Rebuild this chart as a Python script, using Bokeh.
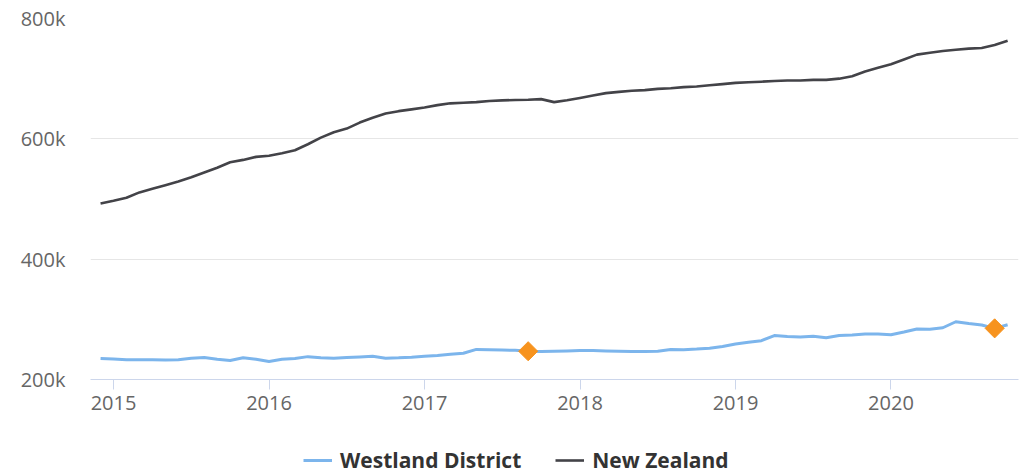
import numpy as np
from bokeh.plotting import figure
from bokeh.layouts import column
from bokeh.models import FixedTicker, Range1d, Legend, LegendItem
from bokeh.embed import file_html
from bokeh.resources import INLINE

# Monthly values, Dec 2014 .. Oct 2020 (thousands of NZD)
start_year = 2014
start_month = 12
westland = [235, 234, 233, 233, 233, 232.5, 233, 235.5, 236.5, 233.5, 231.5, 236,
            233.5, 230, 233.5, 235, 238, 236, 235.5, 236.5, 237.5, 238.5, 235.5, 236,
            237, 238.5, 240, 242, 243.7, 250, 249.5, 249, 248.5, 247, 246.5, 247,
            247.5, 248, 248, 247.5, 247, 246.5, 246.5, 247, 250, 249.5, 250.5, 252,
            255, 259, 262, 264.5, 273, 271.5, 270.5, 272, 269.5, 273, 274, 275.5,
            275.5, 274.5, 279, 284, 283.5, 286, 296, 293, 290.5, 285, 291]
new_zealand = [492.5, 497, 502, 511, 517, 523, 529, 536, 544, 552, 561, 565,
               570, 572, 576, 581, 591, 602, 611, 617, 627, 635, 642, 646,
               649, 652, 656, 659, 660, 661, 663, 664, 664.5, 665, 666, 661,
               664, 668, 672, 676, 678, 680, 681, 683, 684, 686, 687, 689,
               691, 693, 694, 695, 696, 697, 697, 698, 698, 700, 704, 712,
               718, 724, 732, 740, 743, 746, 748, 750, 751, 756, 763]
# highlighted points (month index from start)
highlight_idx = [33, 69]
series_names = ["Westland District", "New Zealand"]
series_colors = ["#7cb5ec", "#434348"]
year_ticks = [2015, 2016, 2017, 2018, 2019, 2020]
y_ticks = [200000, 400000, 600000, 800000]
y_labels = ["200k", "400k", "600k", "800k"]

n = len(westland)
x = [start_year + (start_month - 1) / 12 + i / 12 for i in range(n)]
w_vals = [v * 1000 for v in westland]
nz_vals = [v * 1000 for v in new_zealand]
hx = [x[i] for i in highlight_idx]
hy = [w_vals[i] for i in highlight_idx]

FONT = "Open Sans"

p = figure(width=1023, height=430, output_backend="svg", toolbar_location=None,
           x_range=Range1d(2014.852, 2020.82), y_range=Range1d(200000, 800000),
           min_border_left=90, min_border_right=5, min_border_top=18, min_border_bottom=51)
p.outline_line_color = None
p.background_fill_color = "white"
p.border_fill_color = "white"

p.line(x, w_vals, line_color=series_colors[0], line_width=3, line_join="round")
p.line(x, nz_vals, line_color=series_colors[1], line_width=2.6, line_join="round")
p.scatter(hx, hy, marker="square", angle=np.pi / 4, size=13.5,
          fill_color="#f7931e", line_color="#f7931e")

# axes
xa = p.xaxis[0]
xa.ticker = FixedTicker(ticks=year_ticks)
xa.axis_line_color = "#ccd6eb"
xa.major_tick_line_color = "#ccd6eb"
xa.major_tick_out = 10
xa.major_tick_in = 0
xa.minor_tick_line_color = None
xa.major_label_standoff = 6
xa.major_label_text_font = FONT
xa.major_label_text_font_size = "20px"
xa.major_label_text_color = "#666666"

ya = p.yaxis[0]
ya.ticker = FixedTicker(ticks=y_ticks)
ya.major_label_overrides = {t: l for t, l in zip(y_ticks, y_labels)}
ya.axis_line_color = None
ya.major_tick_line_color = None
ya.minor_tick_line_color = None
ya.major_tick_out = 0
ya.major_label_standoff = 25
ya.major_label_text_font = FONT
ya.major_label_text_font_size = "20px"
ya.major_label_text_color = "#666666"

p.xgrid.grid_line_color = None
p.ygrid.ticker = FixedTicker(ticks=y_ticks)
p.ygrid.grid_line_color = "#e6e6e6"
p.ygrid.grid_line_width = 1

# legend strip below the chart (series drawn outside its visible range, only the legend shows)
lg = figure(width=1023, height=43, output_backend="svg", toolbar_location=None,
            x_axis_type=None, y_axis_type=None,
            x_range=Range1d(0, 1), y_range=Range1d(0, 1),
            min_border_left=0, min_border_right=0, min_border_top=0, min_border_bottom=0)
lg.grid.grid_line_color = None
lg.outline_line_color = None
lg.border_fill_color = "white"
r_w = lg.line(x, w_vals, line_color=series_colors[0], line_width=3)
r_nz = lg.line(x, nz_vals, line_color=series_colors[1], line_width=2.6)

legend = Legend(items=[LegendItem(label=series_names[0], renderers=[r_w]),
                       LegendItem(label=series_names[1], renderers=[r_nz])],
                orientation="horizontal", location=(213, -1))
legend.padding = 0
legend.margin = 0
legend.spacing = 34
legend.glyph_width = 29
legend.label_standoff = 8
legend.border_line_color = None
legend.background_fill_alpha = 0
legend.label_text_font = FONT
legend.label_text_font_style = "bold"
legend.label_text_font_size = "21px"
legend.label_text_color = "#333333"
lg.add_layout(legend, "center")

layout = column(p, lg, spacing=0)
open("out.html", "w").write(file_html(layout, INLINE))
